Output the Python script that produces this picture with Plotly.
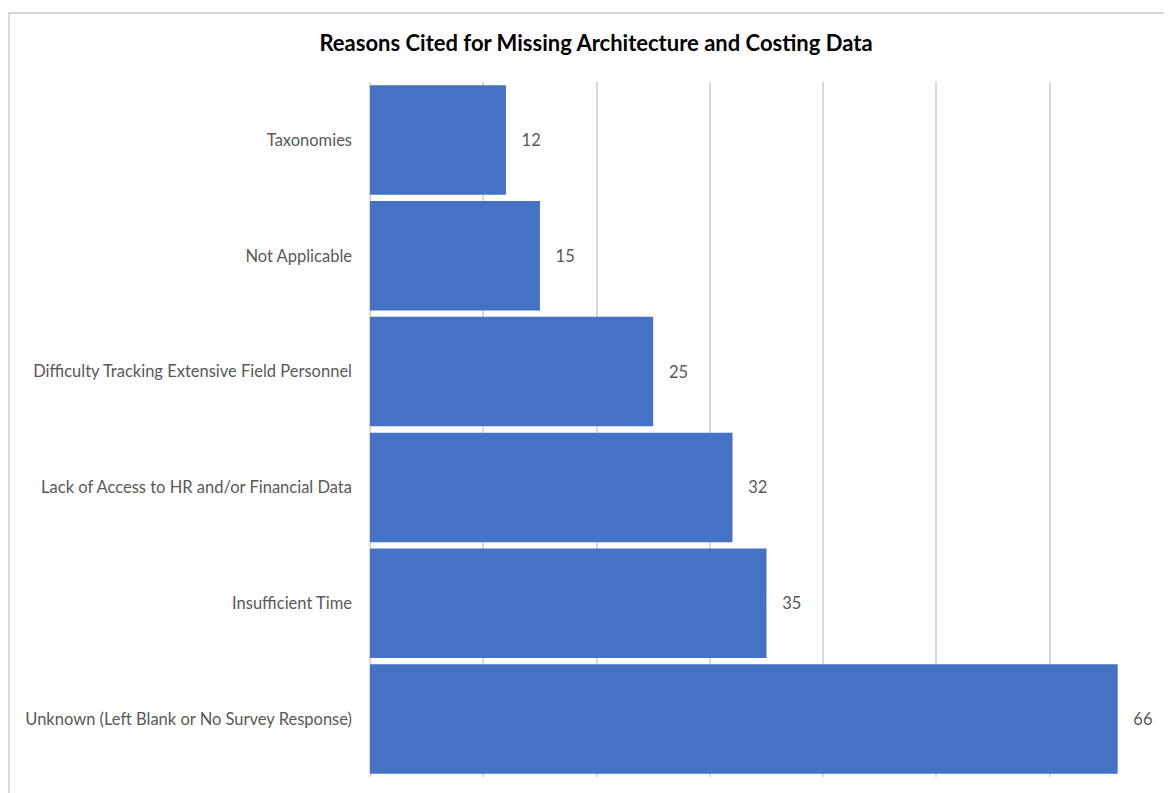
import plotly.graph_objects as go

categories = [
    "Taxonomies",
    "Not Applicable",
    "Difficulty Tracking Extensive Field Personnel",
    "Lack of Access to HR and/or Financial Data",
    "Insufficient Time",
    "Unknown (Left Blank or No Survey Response)",
]
values = [12, 15, 25, 32, 35, 66]
title_text = "Reasons Cited for Missing Architecture and Costing Data"

FONT = "Lato"

W, H = 1164, 785
L, R, T, B = 362, 9, 74, 16
plot_w = W - L - R
plot_h = H - T - B

fig = go.Figure(
    go.Bar(
        x=values,
        y=categories,
        orientation="h",
        marker=dict(color="#4472C4", line=dict(width=0)),
        text=values,
        texttemplate="   %{x}",
        textposition="outside",
        textfont=dict(family=FONT, size=16.5, color="#595959"),
        cliponaxis=False,
        hoverinfo="skip",
    )
)

fig.update_layout(
    width=W,
    height=H,
    margin=dict(l=L, r=R, t=T, b=B),
    paper_bgcolor="white",
    plot_bgcolor="white",
    bargap=0.055,
    showlegend=False,
    title=dict(
        text="<b>" + title_text + "</b>",
        x=588 / W,
        xref="container",
        xanchor="center",
        y=1 - 35 / H,
        yref="container",
        yanchor="middle",
        font=dict(family=FONT, size=22, color="#000000"),
    ),
    xaxis=dict(
        range=[0, 70],
        dtick=10,
        showticklabels=False,
        showgrid=True,
        gridcolor="#d9d9d9",
        gridwidth=1.5,
        zeroline=True,
        zerolinecolor="#d9d9d9",
        zerolinewidth=1.5,
        showline=False,
        ticks="",
        fixedrange=True,
    ),
    yaxis=dict(
        autorange="reversed",
        tickfont=dict(family=FONT, size=16.5, color="#595959"),
        ticks="",
        showgrid=False,
        showline=False,
        ticklabelstandoff=17,
        fixedrange=True,
    ),
    shapes=[
        dict(
            type="rect",
            xref="paper",
            yref="paper",
            x0=(1 - L) / plot_w,
            x1=1.2,
            y0=-0.2,
            y1=1 + (T - 5) / plot_h,
            line=dict(color="#d9d9d9", width=2),
            fillcolor="rgba(0,0,0,0)",
            layer="below",
        )
    ],
)

fig.write_html("out.html")
